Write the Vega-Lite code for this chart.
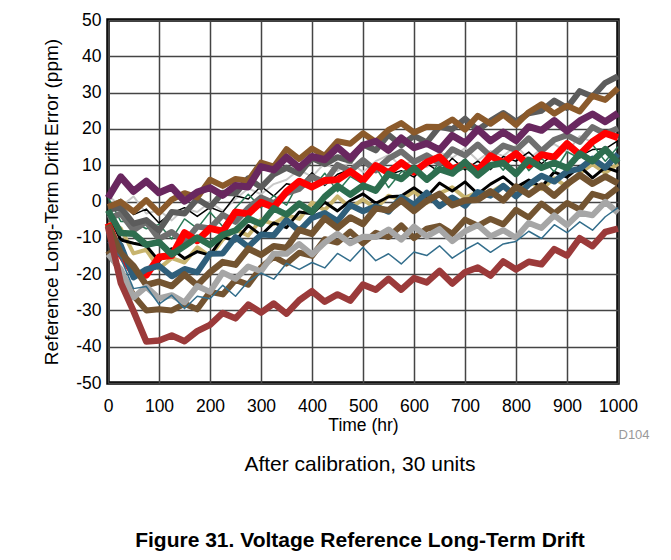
{
"$schema":"https://vega.github.io/schema/vega-lite/v6.json",
"width":510,"height":363,
"autosize":{"type":"none"},
"padding":{"left":108,"top":20,"right":53,"bottom":177},
"background":"#ffffff",
"config":{"font":"Liberation Sans","view":{"stroke":"#000000","strokeWidth":3.5},"axis":{"labelColor":"#000000","titleColor":"#000000","labelFont":"Liberation Sans","titleFont":"Liberation Sans","titleFontWeight":"normal"}},
"title":{"text":"After calibration, 30 units","subtitle":"Figure 31. Voltage Reference Long-Term Drift","orient":"bottom","anchor":"middle","offset":13,"dx":-3,"font":"Liberation Sans","fontSize":21,"fontWeight":"normal","color":"#000000","subtitleFont":"Liberation Sans","subtitleFontSize":21,"subtitleFontWeight":"bold","subtitleColor":"#000000","subtitlePadding":55},
"datasets":{
"KH":[{"t":0,"v":-6.0},{"t":25,"v":-7.4},{"t":50,"v":-14.3},{"t":75,"v":-13.3},{"t":100,"v":-18.5},{"t":125,"v":-15.6},{"t":150,"v":-16.8},{"t":175,"v":-12.6},{"t":200,"v":-15.1},{"t":225,"v":-10.5},{"t":250,"v":-7.7},{"t":275,"v":-9.4},{"t":300,"v":-5.0},{"t":325,"v":-6.2},{"t":350,"v":-3.8},{"t":375,"v":-4.8},{"t":400,"v":-0.3},{"t":425,"v":-2.4},{"t":450,"v":1.4},{"t":475,"v":-1.8},{"t":500,"v":0.6},{"t":525,"v":-2.0},{"t":550,"v":1.6},{"t":575,"v":0.4},{"t":600,"v":2.8},{"t":625,"v":-0.4},{"t":650,"v":2.2},{"t":675,"v":3.9},{"t":700,"v":1.0},{"t":725,"v":2.6},{"t":750,"v":2.5},{"t":775,"v":4.6},{"t":800,"v":1.8},{"t":825,"v":5.6},{"t":850,"v":3.4},{"t":875,"v":6.4},{"t":900,"v":4.1},{"t":925,"v":7.8},{"t":950,"v":10.3},{"t":975,"v":7.9},{"t":1000,"v":10.4}],
"K2":[{"t":0,"v":-3.1},{"t":25,"v":-10.6},{"t":50,"v":-11.5},{"t":75,"v":-12.2},{"t":100,"v":-16.4},{"t":125,"v":-13.0},{"t":150,"v":-15.7},{"t":175,"v":-13.8},{"t":200,"v":-14.8},{"t":225,"v":-9.8},{"t":250,"v":-10.9},{"t":275,"v":-6.6},{"t":300,"v":-9.3},{"t":325,"v":-5.9},{"t":350,"v":-7.2},{"t":375,"v":-2.9},{"t":400,"v":-3.4},{"t":425,"v":-0.2},{"t":450,"v":-2.6},{"t":475,"v":0.2},{"t":500,"v":2.1},{"t":525,"v":-0.5},{"t":550,"v":1.3},{"t":575,"v":1.5},{"t":600,"v":3.8},{"t":625,"v":1.3},{"t":650,"v":5.1},{"t":675,"v":2.9},{"t":700,"v":5.4},{"t":725,"v":2.1},{"t":750,"v":4.8},{"t":775,"v":6.8},{"t":800,"v":3.9},{"t":825,"v":5.9},{"t":850,"v":4.0},{"t":875,"v":8.1},{"t":900,"v":6.7},{"t":925,"v":9.7},{"t":950,"v":6.5},{"t":975,"v":9.4},{"t":1000,"v":8.2}],
"LW":[{"t":0,"v":1.7},{"t":25,"v":-1.4},{"t":50,"v":1.4},{"t":75,"v":-3.3},{"t":100,"v":-2.4},{"t":125,"v":-5.2},{"t":150,"v":-1.9},{"t":175,"v":-2.9},{"t":200,"v":-0.2},{"t":225,"v":-2.6},{"t":250,"v":0.7},{"t":275,"v":3.6},{"t":300,"v":2.0},{"t":325,"v":4.8},{"t":350,"v":6.0},{"t":375,"v":8.8},{"t":400,"v":6.8},{"t":425,"v":10.6},{"t":450,"v":8.4},{"t":475,"v":10.9},{"t":500,"v":8.1},{"t":525,"v":11.1},{"t":550,"v":12.8},{"t":575,"v":9.7},{"t":600,"v":11.4},{"t":625,"v":9.5},{"t":650,"v":13.6},{"t":675,"v":12.0},{"t":700,"v":14.7},{"t":725,"v":11.3},{"t":750,"v":13.9},{"t":775,"v":12.5},{"t":800,"v":15.4},{"t":825,"v":11.7},{"t":850,"v":14.5},{"t":875,"v":15.8},{"t":900,"v":13.6},{"t":925,"v":18.0},{"t":950,"v":16.3},{"t":975,"v":18.2},{"t":1000,"v":17.2}],
"K1":[{"t":0,"v":-1.2},{"t":25,"v":0.6},{"t":50,"v":-3.6},{"t":75,"v":-2.1},{"t":100,"v":-5.9},{"t":125,"v":-3.2},{"t":150,"v":-1.7},{"t":175,"v":-4.1},{"t":200,"v":-1.6},{"t":225,"v":-3.0},{"t":250,"v":1.6},{"t":275,"v":0.7},{"t":300,"v":4.2},{"t":325,"v":1.5},{"t":350,"v":4.9},{"t":375,"v":4.2},{"t":400,"v":7.9},{"t":425,"v":4.4},{"t":450,"v":7.5},{"t":475,"v":8.8},{"t":500,"v":6.6},{"t":525,"v":10.0},{"t":550,"v":7.3},{"t":575,"v":8.5},{"t":600,"v":6.7},{"t":625,"v":10.5},{"t":650,"v":8.1},{"t":675,"v":11.9},{"t":700,"v":8.7},{"t":725,"v":11.1},{"t":750,"v":8.8},{"t":775,"v":12.4},{"t":800,"v":11.1},{"t":825,"v":13.6},{"t":850,"v":10.4},{"t":875,"v":13.2},{"t":900,"v":15.1},{"t":925,"v":12.5},{"t":950,"v":14.3},{"t":975,"v":14.5},{"t":1000,"v":16.8}],
"TG":[{"t":0,"v":1.2},{"t":25,"v":-5.5},{"t":50,"v":-5.5},{"t":75,"v":-7.5},{"t":100,"v":-6.3},{"t":125,"v":-10.3},{"t":150,"v":-4.8},{"t":175,"v":-7.4},{"t":200,"v":-2.9},{"t":225,"v":-6.9},{"t":250,"v":-1.8},{"t":275,"v":2.0},{"t":300,"v":-1.7},{"t":325,"v":1.6},{"t":350,"v":-1.0},{"t":375,"v":5.4},{"t":400,"v":3.5},{"t":425,"v":7.8},{"t":450,"v":2.7},{"t":475,"v":6.9},{"t":500,"v":4.8},{"t":525,"v":9.4},{"t":550,"v":3.8},{"t":575,"v":8.1},{"t":600,"v":9.5},{"t":625,"v":5.7},{"t":650,"v":11.0},{"t":675,"v":7.4},{"t":700,"v":9.3},{"t":725,"v":6.8},{"t":750,"v":12.6},{"t":775,"v":8.6},{"t":800,"v":13.6},{"t":825,"v":8.5},{"t":850,"v":11.9},{"t":875,"v":8.2},{"t":900,"v":13.7},{"t":925,"v":11.9},{"t":950,"v":15.7},{"t":975,"v":11.1},{"t":1000,"v":15.1}],
"G2":[{"t":0,"v":-4.8},{"t":25,"v":-3.3},{"t":50,"v":-7.9},{"t":75,"v":-5.6},{"t":100,"v":-10.3},{"t":125,"v":-8.4},{"t":150,"v":-11.2},{"t":175,"v":-6.9},{"t":200,"v":-7.4},{"t":225,"v":-3.7},{"t":250,"v":-5.6},{"t":275,"v":-1.8},{"t":300,"v":1.1},{"t":325,"v":-0.5},{"t":350,"v":2.3},{"t":375,"v":3.5},{"t":400,"v":6.8},{"t":425,"v":5.3},{"t":450,"v":10.1},{"t":475,"v":8.4},{"t":500,"v":11.4},{"t":525,"v":8.6},{"t":550,"v":11.8},{"t":575,"v":13.8},{"t":600,"v":10.9},{"t":625,"v":12.7},{"t":650,"v":10.5},{"t":675,"v":14.4},{"t":700,"v":12.7},{"t":725,"v":15.7},{"t":750,"v":12.5},{"t":775,"v":15.4},{"t":800,"v":14.2},{"t":825,"v":17.4},{"t":850,"v":13.9},{"t":875,"v":17.0},{"t":900,"v":18.3},{"t":925,"v":16.4},{"t":950,"v":20.5},{"t":975,"v":18.6},{"t":1000,"v":20.2}],
"G":[{"t":0,"v":-2.2},{"t":25,"v":-1.7},{"t":50,"v":-6.1},{"t":75,"v":-5.1},{"t":100,"v":-8.0},{"t":125,"v":-2.9},{"t":150,"v":-3.3},{"t":175,"v":0.7},{"t":200,"v":-1.5},{"t":225,"v":2.4},{"t":250,"v":2.2},{"t":275,"v":6.4},{"t":300,"v":3.9},{"t":325,"v":7.5},{"t":350,"v":9.3},{"t":375,"v":7.6},{"t":400,"v":12.0},{"t":425,"v":10.3},{"t":450,"v":12.2},{"t":475,"v":11.2},{"t":500,"v":15.7},{"t":525,"v":14.1},{"t":550,"v":18.4},{"t":575,"v":15.5},{"t":600,"v":18.1},{"t":625,"v":16.3},{"t":650,"v":20.6},{"t":675,"v":19.9},{"t":700,"v":22.8},{"t":725,"v":19.7},{"t":750,"v":22.2},{"t":775,"v":24.4},{"t":800,"v":22.0},{"t":825,"v":24.3},{"t":850,"v":25.0},{"t":875,"v":27.8},{"t":900,"v":25.8},{"t":925,"v":30.4},{"t":950,"v":28.9},{"t":975,"v":32.7},{"t":1000,"v":34.5}],
"B":[{"t":0,"v":-1.5},{"t":25,"v":-0.1},{"t":50,"v":-2.8},{"t":75,"v":0.4},{"t":100,"v":-3.1},{"t":125,"v":0.5},{"t":150,"v":2.3},{"t":175,"v":1.1},{"t":200,"v":6.0},{"t":225,"v":4.3},{"t":250,"v":6.2},{"t":275,"v":5.7},{"t":300,"v":10.7},{"t":325,"v":9.6},{"t":350,"v":14.4},{"t":375,"v":11.7},{"t":400,"v":14.6},{"t":425,"v":12.6},{"t":450,"v":16.6},{"t":475,"v":15.9},{"t":500,"v":18.8},{"t":525,"v":16.4},{"t":550,"v":19.7},{"t":575,"v":21.6},{"t":600,"v":19.0},{"t":625,"v":20.6},{"t":650,"v":20.5},{"t":675,"v":22.6},{"t":700,"v":19.8},{"t":725,"v":23.6},{"t":750,"v":21.4},{"t":775,"v":23.9},{"t":800,"v":21.1},{"t":825,"v":24.6},{"t":850,"v":26.8},{"t":875,"v":24.2},{"t":900,"v":26.4},{"t":925,"v":24.8},{"t":950,"v":29.1},{"t":975,"v":28.0},{"t":1000,"v":31.2}],
"P":[{"t":0,"v":1},{"t":25,"v":6.8},{"t":50,"v":2.8},{"t":75,"v":5.6},{"t":100,"v":2.4},{"t":125,"v":3.9},{"t":150,"v":0.1},{"t":175,"v":2.6},{"t":200,"v":3.8},{"t":225,"v":1.7},{"t":250,"v":4.4},{"t":275,"v":4.0},{"t":300,"v":9.6},{"t":325,"v":8.7},{"t":350,"v":12.2},{"t":375,"v":9.3},{"t":400,"v":12.4},{"t":425,"v":11.5},{"t":450,"v":14.9},{"t":475,"v":11.9},{"t":500,"v":15.5},{"t":525,"v":16.6},{"t":550,"v":14.1},{"t":575,"v":17.5},{"t":600,"v":14.8},{"t":625,"v":16.0},{"t":650,"v":14.2},{"t":675,"v":18.2},{"t":700,"v":16.1},{"t":725,"v":19.9},{"t":750,"v":16.7},{"t":775,"v":19.1},{"t":800,"v":16.8},{"t":825,"v":20.6},{"t":850,"v":19.6},{"t":875,"v":22.3},{"t":900,"v":19.4},{"t":925,"v":22.2},{"t":950,"v":24.1},{"t":975,"v":22.0},{"t":1000,"v":24.3}],
"R":[{"t":0,"v":-6.0},{"t":25,"v":-14.7},{"t":50,"v":-19.8},{"t":75,"v":-20.3},{"t":100,"v":-15.3},{"t":125,"v":-14.9},{"t":150,"v":-8.6},{"t":175,"v":-10.8},{"t":200,"v":-7.4},{"t":225,"v":-8.2},{"t":250,"v":-2.9},{"t":275,"v":-3.4},{"t":300,"v":-0.2},{"t":325,"v":-1.6},{"t":350,"v":2.7},{"t":375,"v":5.6},{"t":400,"v":4.0},{"t":425,"v":5.8},{"t":450,"v":6.0},{"t":475,"v":8.3},{"t":500,"v":5.8},{"t":525,"v":9.9},{"t":550,"v":7.9},{"t":575,"v":10.7},{"t":600,"v":8.1},{"t":625,"v":10.8},{"t":650,"v":12.3},{"t":675,"v":8.9},{"t":700,"v":10.4},{"t":725,"v":8.5},{"t":750,"v":12.6},{"t":775,"v":10.7},{"t":800,"v":13.2},{"t":825,"v":10.0},{"t":850,"v":12.9},{"t":875,"v":12.2},{"t":900,"v":15.9},{"t":925,"v":12.9},{"t":950,"v":16.5},{"t":975,"v":18.8},{"t":1000,"v":17.6}],
"BL":[{"t":0,"v":-8.6},{"t":25,"v":-12.1},{"t":50,"v":-20.9},{"t":75,"v":-18.7},{"t":100,"v":-17.7},{"t":125,"v":-20.6},{"t":150,"v":-18.6},{"t":175,"v":-19.5},{"t":200,"v":-14.4},{"t":225,"v":-14.3},{"t":250,"v":-9.8},{"t":275,"v":-12.5},{"t":300,"v":-9.1},{"t":325,"v":-9.3},{"t":350,"v":-5.1},{"t":375,"v":-8.1},{"t":400,"v":-4.5},{"t":425,"v":-3.2},{"t":450,"v":-5.4},{"t":475,"v":-1.0},{"t":500,"v":-2.7},{"t":525,"v":-1.3},{"t":550,"v":-2.8},{"t":575,"v":1.2},{"t":600,"v":-0.9},{"t":625,"v":2.4},{"t":650,"v":-1.3},{"t":675,"v":1.1},{"t":700,"v":-1.2},{"t":725,"v":2.6},{"t":750,"v":1.6},{"t":775,"v":4.3},{"t":800,"v":1.4},{"t":825,"v":4.7},{"t":850,"v":7.1},{"t":875,"v":5.5},{"t":900,"v":8.3},{"t":925,"v":9.0},{"t":950,"v":11.8},{"t":975,"v":9.3},{"t":1000,"v":13.1}],
"GR":[{"t":0,"v":-2.4},{"t":25,"v":-8.7},{"t":50,"v":-8.9},{"t":75,"v":-11.9},{"t":100,"v":-11.2},{"t":125,"v":-14.6},{"t":150,"v":-12.3},{"t":175,"v":-9.9},{"t":200,"v":-12.0},{"t":225,"v":-9.2},{"t":250,"v":-8.0},{"t":275,"v":-4.7},{"t":300,"v":-6.2},{"t":325,"v":-1.9},{"t":350,"v":-3.6},{"t":375,"v":-0.6},{"t":400,"v":-2.9},{"t":425,"v":1.3},{"t":450,"v":4.3},{"t":475,"v":1.9},{"t":500,"v":4.4},{"t":525,"v":3.0},{"t":550,"v":7.6},{"t":575,"v":6.2},{"t":600,"v":9.2},{"t":625,"v":6.0},{"t":650,"v":8.9},{"t":675,"v":7.7},{"t":700,"v":10.9},{"t":725,"v":7.2},{"t":750,"v":10.0},{"t":775,"v":10.6},{"t":800,"v":7.6},{"t":825,"v":11.5},{"t":850,"v":9.3},{"t":875,"v":10.7},{"t":900,"v":9.2},{"t":925,"v":13.2},{"t":950,"v":11.1},{"t":975,"v":14.4},{"t":1000,"v":10.7}],
"O1":[{"t":0,"v":-6.4},{"t":25,"v":-14.3},{"t":50,"v":-17.8},{"t":75,"v":-23.0},{"t":100,"v":-22.1},{"t":125,"v":-23.3},{"t":150,"v":-20.1},{"t":175,"v":-23.1},{"t":200,"v":-19.5},{"t":225,"v":-16.7},{"t":250,"v":-17.4},{"t":275,"v":-13.0},{"t":300,"v":-14.7},{"t":325,"v":-12.3},{"t":350,"v":-12.8},{"t":375,"v":-7.8},{"t":400,"v":-8.9},{"t":425,"v":-4.6},{"t":450,"v":-7.3},{"t":475,"v":-4.4},{"t":500,"v":-6.2},{"t":525,"v":-1.9},{"t":550,"v":-2.4},{"t":575,"v":0.3},{"t":600,"v":-2.6},{"t":625,"v":0.2},{"t":650,"v":2.1},{"t":675,"v":-1.0},{"t":700,"v":0.3},{"t":725,"v":0.5},{"t":750,"v":2.8},{"t":775,"v":0.3},{"t":800,"v":4.1},{"t":825,"v":1.9},{"t":850,"v":4.4},{"t":875,"v":1.6},{"t":900,"v":4.8},{"t":925,"v":7.3},{"t":950,"v":4.9},{"t":975,"v":6.9},{"t":1000,"v":5.0}],
"O2":[{"t":0,"v":-13.6},{"t":25,"v":-19.3},{"t":50,"v":-25.9},{"t":75,"v":-30.0},{"t":100,"v":-29.7},{"t":125,"v":-30.0},{"t":150,"v":-28.2},{"t":175,"v":-29.7},{"t":200,"v":-24.9},{"t":225,"v":-25.6},{"t":250,"v":-21.6},{"t":275,"v":-22.9},{"t":300,"v":-18.2},{"t":325,"v":-15.2},{"t":350,"v":-17.1},{"t":375,"v":-14.1},{"t":400,"v":-15.0},{"t":425,"v":-10.4},{"t":450,"v":-11.3},{"t":475,"v":-8.3},{"t":500,"v":-11.5},{"t":525,"v":-8.6},{"t":550,"v":-9.8},{"t":575,"v":-6.6},{"t":600,"v":-10.1},{"t":625,"v":-7.5},{"t":650,"v":-6.7},{"t":675,"v":-8.9},{"t":700,"v":-5.0},{"t":725,"v":-6.7},{"t":750,"v":-4.8},{"t":775,"v":-6.3},{"t":800,"v":-2.3},{"t":825,"v":-4.4},{"t":850,"v":-0.6},{"t":875,"v":-3.3},{"t":900,"v":-0.4},{"t":925,"v":-2.2},{"t":950,"v":2.1},{"t":975,"v":1.1},{"t":1000,"v":3.8}],
"LG1":[{"t":0,"v":-14.5},{"t":25,"v":-18.7},{"t":50,"v":-26.4},{"t":75,"v":-23.5},{"t":100,"v":-26.7},{"t":125,"v":-25.8},{"t":150,"v":-27.8},{"t":175,"v":-23.3},{"t":200,"v":-24.9},{"t":225,"v":-19.6},{"t":250,"v":-21.3},{"t":275,"v":-17.9},{"t":300,"v":-19.2},{"t":325,"v":-14.4},{"t":350,"v":-14.4},{"t":375,"v":-11.7},{"t":400,"v":-14.6},{"t":425,"v":-11.3},{"t":450,"v":-8.9},{"t":475,"v":-11.5},{"t":500,"v":-9.7},{"t":525,"v":-9.8},{"t":550,"v":-7.7},{"t":575,"v":-10.5},{"t":600,"v":-6.9},{"t":625,"v":-9.6},{"t":650,"v":-7.6},{"t":675,"v":-10.9},{"t":700,"v":-8.2},{"t":725,"v":-6.5},{"t":750,"v":-9.6},{"t":775,"v":-7.9},{"t":800,"v":-10.0},{"t":825,"v":-5.9},{"t":850,"v":-7.3},{"t":875,"v":-3.8},{"t":900,"v":-6.5},{"t":925,"v":-3.1},{"t":950,"v":-3.8},{"t":975,"v":-0.1},{"t":1000,"v":-3.1}],
"TB":[{"t":0,"v":-11.1},{"t":25,"v":-15.6},{"t":50,"v":-24.0},{"t":75,"v":-23.4},{"t":100,"v":-28.3},{"t":125,"v":-25.8},{"t":150,"v":-29.5},{"t":175,"v":-26.1},{"t":200,"v":-26.8},{"t":225,"v":-23.1},{"t":250,"v":-26.1},{"t":275,"v":-22.0},{"t":300,"v":-19.7},{"t":325,"v":-21.4},{"t":350,"v":-17.0},{"t":375,"v":-18.7},{"t":400,"v":-16.8},{"t":425,"v":-18.3},{"t":450,"v":-14.3},{"t":475,"v":-16.4},{"t":500,"v":-12.6},{"t":525,"v":-16.3},{"t":550,"v":-14.4},{"t":575,"v":-17.2},{"t":600,"v":-13.9},{"t":625,"v":-14.9},{"t":650,"v":-12.2},{"t":675,"v":-15.6},{"t":700,"v":-13.3},{"t":725,"v":-11.4},{"t":750,"v":-14.0},{"t":775,"v":-11.7},{"t":800,"v":-11.0},{"t":825,"v":-8.2},{"t":850,"v":-10.2},{"t":875,"v":-6.4},{"t":900,"v":-8.6},{"t":925,"v":-5.6},{"t":950,"v":-7.9},{"t":975,"v":-4.2},{"t":1000,"v":-1.7}],
"M":[{"t":0,"v":-6.9},{"t":25,"v":-22.4},{"t":50,"v":-30.2},{"t":75,"v":-38.6},{"t":100,"v":-38.3},{"t":125,"v":-36.9},{"t":150,"v":-38.5},{"t":175,"v":-35.7},{"t":200,"v":-34.0},{"t":225,"v":-30.7},{"t":250,"v":-32.2},{"t":275,"v":-28.4},{"t":300,"v":-30.6},{"t":325,"v":-28.1},{"t":350,"v":-30.9},{"t":375,"v":-27.2},{"t":400,"v":-24.7},{"t":425,"v":-27.6},{"t":450,"v":-25.6},{"t":475,"v":-27.3},{"t":500,"v":-22.9},{"t":525,"v":-24.3},{"t":550,"v":-21.3},{"t":575,"v":-24.3},{"t":600,"v":-21.1},{"t":625,"v":-22.3},{"t":650,"v":-19.1},{"t":675,"v":-22.6},{"t":700,"v":-19.5},{"t":725,"v":-18.2},{"t":750,"v":-20.4},{"t":775,"v":-16.5},{"t":800,"v":-18.7},{"t":825,"v":-16.6},{"t":850,"v":-17.3},{"t":875,"v":-13.1},{"t":900,"v":-14.9},{"t":925,"v":-10.1},{"t":950,"v":-12.3},{"t":975,"v":-8.4},{"t":1000,"v":-7.5}]
},
"encoding":{
"x":{"field":"t","type":"quantitative","scale":{"domain":[0,1000],"nice":false},"axis":{"title":"Time (hr)","values":[0,100,200,300,400,500,600,700,800,900,1000],"labelExpr":"'' + datum.value","grid":true,"gridColor":"#444444","gridWidth":1.5,"ticks":false,"tickSize":0,"domain":false,"labelFontSize":17.5,"labelPadding":14,"labelFlush":false,"labelOverlap":false,"titleFontSize":17.5,"titlePadding":2}},
"y":{"field":"v","type":"quantitative","scale":{"domain":[-50,50],"nice":false},"axis":{"title":"Reference Long-Term Drift Error (ppm)","values":[-50,-40,-30,-20,-10,0,10,20,30,40,50],"labelExpr":"'' + datum.value","grid":true,"gridColor":"#444444","gridWidth":1.5,"ticks":false,"tickSize":0,"domain":false,"labelFontSize":17.5,"labelPadding":7,"labelFlush":false,"labelOverlap":false,"titleFontSize":19,"titlePadding":14}}
},
"layer":[
{"layer":[
{"data":{"name":"KH"},"mark":{"type":"line","color":"#c8b46e","strokeWidth":4,"strokeJoin":"round"}},
{"data":{"name":"K2"},"mark":{"type":"line","color":"#000000","strokeWidth":3,"strokeJoin":"round"}},
{"data":{"name":"LW"},"mark":{"type":"line","color":"#c8c8c8","strokeWidth":2,"strokeJoin":"round"}},
{"data":{"name":"K1"},"mark":{"type":"line","color":"#000000","strokeWidth":1.5,"strokeJoin":"round"}},
{"data":{"name":"TG"},"mark":{"type":"line","color":"#2b7a57","strokeWidth":1.5,"strokeJoin":"round"}},
{"data":{"name":"G2"},"mark":{"type":"line","color":"#6f6f6f","strokeWidth":6,"strokeJoin":"round"}},
{"data":{"name":"G"},"mark":{"type":"line","color":"#5c5c5c","strokeWidth":6,"strokeJoin":"round"}},
{"data":{"name":"B"},"mark":{"type":"line","color":"#8b5a2b","strokeWidth":6,"strokeJoin":"round"}},
{"data":{"name":"P"},"mark":{"type":"line","color":"#69275f","strokeWidth":7,"strokeJoin":"round"}},
{"data":{"name":"R"},"mark":{"type":"line","color":"#ff0000","strokeWidth":7,"strokeJoin":"round"}},
{"data":{"name":"BL"},"mark":{"type":"line","color":"#2f5f7b","strokeWidth":6,"strokeJoin":"round"}},
{"data":{"name":"GR"},"mark":{"type":"line","color":"#2d6e4f","strokeWidth":6.5,"strokeJoin":"round"}},
{"data":{"name":"O1"},"mark":{"type":"line","color":"#735431","strokeWidth":6.5,"strokeJoin":"round"}},
{"data":{"name":"O2"},"mark":{"type":"line","color":"#735431","strokeWidth":6,"strokeJoin":"round"}},
{"data":{"name":"LG1"},"mark":{"type":"line","color":"#a6a6a6","strokeWidth":6,"strokeJoin":"round"}},
{"data":{"name":"TB"},"mark":{"type":"line","color":"#336e8c","strokeWidth":1.5,"strokeJoin":"round"}}
]},
{"data":{"name":"M"},"mark":{"type":"line","color":"#9b3a3a","strokeWidth":6.5,"strokeJoin":"round"},
 "encoding":{"x":{"field":"t","type":"quantitative","scale":{"domain":[0,1000],"nice":false},"axis":{"title":"D104","orient":"bottom","labels":false,"ticks":false,"tickSize":0,"domain":false,"grid":false,"titleAnchor":"end","titleAlign":"left","titleColor":"#999999","titleFont":"Liberation Sans","titleFontSize":13,"titleFontWeight":"normal","titlePadding":45}}}}
],
"resolve":{"axis":{"x":"independent"}}
}
